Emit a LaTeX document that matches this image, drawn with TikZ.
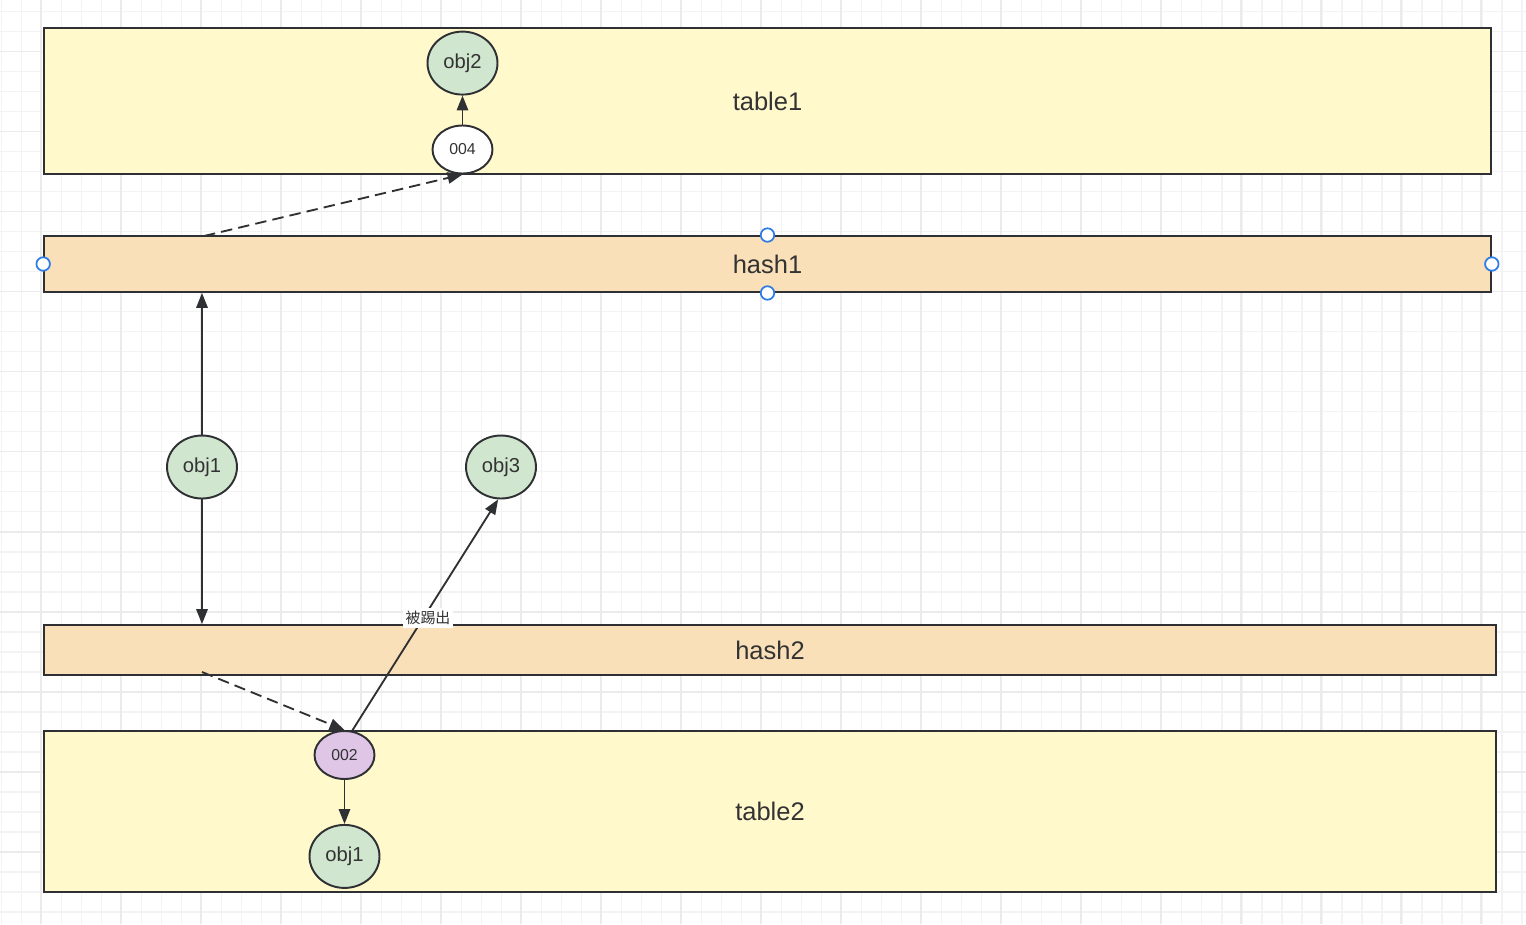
\documentclass[tikz,border=0pt]{standalone}
\usepackage{fontspec}
\setmainfont{Liberation Sans}
\newfontfamily\cjkfont{Noto Sans CJK SC}
\usepackage{xcolor}
\definecolor{LemonLight}{HTML}{FFF9CC}
\definecolor{PeachLight}{HTML}{FAE0B8}
\definecolor{GreenLight}{HTML}{D0E6CF}
\definecolor{PurpleLight}{HTML}{DFC5E6}
\definecolor{LineDark}{HTML}{2E3033}
\definecolor{TextDark}{HTML}{333333}
\definecolor{GridMinor}{HTML}{F3F3F3}
\definecolor{GridMajor}{HTML}{EBEBEB}
\definecolor{HandleBlue}{HTML}{2F7BE8}
\usetikzlibrary{shapes.geometric, arrows.meta, positioning}
\tikzset{
  base box/.style 2 args={
    rectangle, draw=LineDark, line width=1.1pt,
    minimum width=#1, minimum height=#2, inner sep=0pt, text=TextDark
  },
  table box/.style 2 args={base box={#1}{#2}, fill=LemonLight, font=\fontsize{14.5}{17}\selectfont},
  hash box/.style 2 args={base box={#1}{#2}, fill=PeachLight, font=\fontsize{14.5}{17}\selectfont},
  obj node/.style={
    ellipse, draw=LineDark, line width=1.1pt, fill=GreenLight,
    minimum width=1.4cm, minimum height=1.26cm, inner sep=0pt,
    text=TextDark, font=\fontsize{11.5}{14}\selectfont
  },
  key node/.style={
    ellipse, draw=LineDark, line width=1.1pt, fill=#1,
    minimum width=1.2cm, minimum height=0.96cm, inner sep=0pt,
    text=TextDark, font=\fontsize{9}{11}\selectfont
  },
  handle/.style={circle, draw=HandleBlue, fill=white, line width=1pt, minimum size=0.27cm, inner sep=0pt},
  kick label/.style={fill=white, inner sep=1.5pt, text=TextDark, font=\cjkfont\fontsize{8.5}{10}\selectfont},
  arrow/.style={-{Triangle[length=8.5pt,width=6.5pt]}, line width=1.05pt, color=LineDark},
  darrow/.style={arrow, dash pattern=on 6.5pt off 3.5pt},
  minor grid/.style={line width=0.9pt, GridMinor},
  major grid/.style={line width=0.9pt, GridMajor},
}

\begin{document}
\begin{tikzpicture}[x=0.02cm, y=-0.02cm]
  \useasboundingbox (0,0) rectangle (1526,924);
  \fill[white] (0,0) rectangle (1526,924);

  % background grid
  \foreach \x in {1.7,21.7,...,1525} \draw[minor grid] (\x,0) -- (\x,924);
  \foreach \y in {11.7,31.7,...,923} \draw[minor grid] (0,\y) -- (1526,\y);
  \foreach \x in {41,121,...,1525} \draw[major grid] (\x,0) -- (\x,924);
  \foreach \y in {51.7,131.7,...,923} \draw[major grid] (0,\y) -- (1526,\y);

  % tables and hashes
  \node[table box={28.94cm}{2.92cm}] (table1) at (767.5,101) {table1};
  \node[hash box={28.94cm}{1.12cm}] (hash1) at (767.5,264) {hash1};
  \node[hash box={29.04cm}{1.0cm}] (hash2) at (770,650) {hash2};
  \node[table box={29.04cm}{3.22cm}] (table2) at (770,811.5) {table2};

  % entries
  \node[key node=white] (key004) at (462.5,149.5) {004};
  \node[obj node, above=0.58cm of key004] (obj2) {obj2};
  \node[obj node] (obj1up) at (202,467) {obj1};
  \node[obj node] (obj3) at (501,467) {obj3};
  \node[key node=PurpleLight] (key002) at (344.5,755) {002};
  \node[obj node, below=0.88cm of key002] (obj1down) {obj1};

  % selection handles
  \node[handle] (h1top) at (hash1.north) {};
  \node[handle] (h1bot) at (hash1.south) {};
  \node[handle] (h1left) at (hash1.west) {};
  \node[handle] (h1right) at (hash1.east) {};

  % connectors
  \coordinate (hash1src) at (204,236);
  \coordinate (hash2src) at (202,672);
  \coordinate (kicksrc) at (352,731);
  \draw[darrow] (hash1src) -- (key004.south);
  \draw[arrow] (key004) -- (obj2);
  \draw[arrow] (obj1up) -- (obj1up |- hash1.south);
  \draw[arrow] (obj1up) -- (obj1up |- hash2.north);
  \draw[darrow] (hash2src) -- (key002.north);
  \draw[arrow] (key002) -- (obj1down);
  \draw[arrow] (kicksrc) -- (obj3.-95);
  \node[kick label] (kicked) at (428,618) {被踢出};
\end{tikzpicture}
\end{document}
